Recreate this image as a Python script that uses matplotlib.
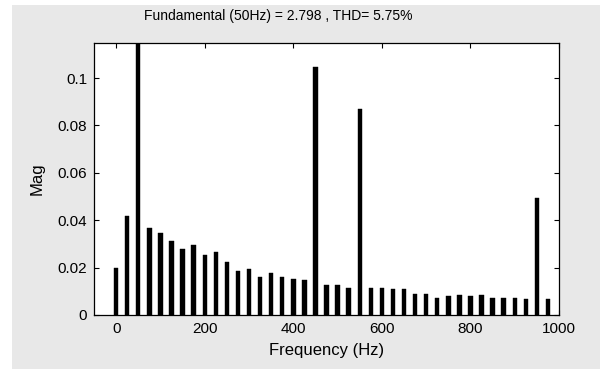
import matplotlib
matplotlib.use("Agg")
import matplotlib.pyplot as plt
from matplotlib.patches import Rectangle

# Harmonic spectrum, 25 Hz spacing (fundamental at 50 Hz is clipped by ylim)
freqs = [f * 25 for f in range(40)]
mags = [
    0.0200, 0.0418, 2.798, 0.0367, 0.0346, 0.0312, 0.0278, 0.0295,
    0.0255, 0.0268, 0.0223, 0.0185, 0.0196, 0.0162, 0.0179, 0.0162,
    0.0151, 0.0147, 0.1048, 0.0128, 0.0128, 0.0113, 0.0870, 0.0113,
    0.0113, 0.0108, 0.0108, 0.0090, 0.0090, 0.0073, 0.0079, 0.0086,
    0.0079, 0.0086, 0.0073, 0.0073, 0.0073, 0.0069, 0.0494, 0.0069,
]
xticks = [0, 200, 400, 600, 800, 1000]
yticks = [0, 0.02, 0.04, 0.06, 0.08, 0.1]
yticklabels = ["0", "0.02", "0.04", "0.06", "0.08", "0.1"]
title = "Fundamental (50Hz) = 2.798 , THD= 5.75%"

plt.rcParams["font.family"] = ["Liberation Sans", "DejaVu Sans"]

fig = plt.figure(figsize=(6, 3.69), dpi=100, facecolor="white")
# gray figure panel (white strip on left and top like the screenshot)
fig.patches.append(
    Rectangle((12 / 600, 0), 1, 1 - 5 / 369, transform=fig.transFigure,
              facecolor="#e8e8e8", edgecolor="none", zorder=-10)
)

ax = fig.add_axes([94 / 600, 54 / 369, 465 / 600, 272 / 369])
ax.set_facecolor("white")
ax.bar(freqs, mags, width=10, color="black", edgecolor="black", linewidth=0.3)

ax.set_xlim(-50, 1000)
ax.set_ylim(0, 0.1148)
ax.set_xticks(xticks)
ax.set_yticks(yticks)
ax.set_yticklabels(yticklabels)
ax.tick_params(direction="in", top=True, right=True, length=3.5, width=0.8,
               labelsize=11, colors="black")
ax.tick_params(axis="x", pad=5)
ax.tick_params(axis="y", pad=5)
for s in ax.spines.values():
    s.set_linewidth(0.9)
    s.set_color("black")

ax.set_xlabel("Frequency (Hz)", fontsize=12, labelpad=5)
ax.set_ylabel("Mag", fontsize=12, labelpad=9)
fig.text(278 / 600, 1 - 16 / 369, title, ha="center", va="center", fontsize=10)

fig.savefig("out.png", dpi=100, facecolor=fig.get_facecolor())
